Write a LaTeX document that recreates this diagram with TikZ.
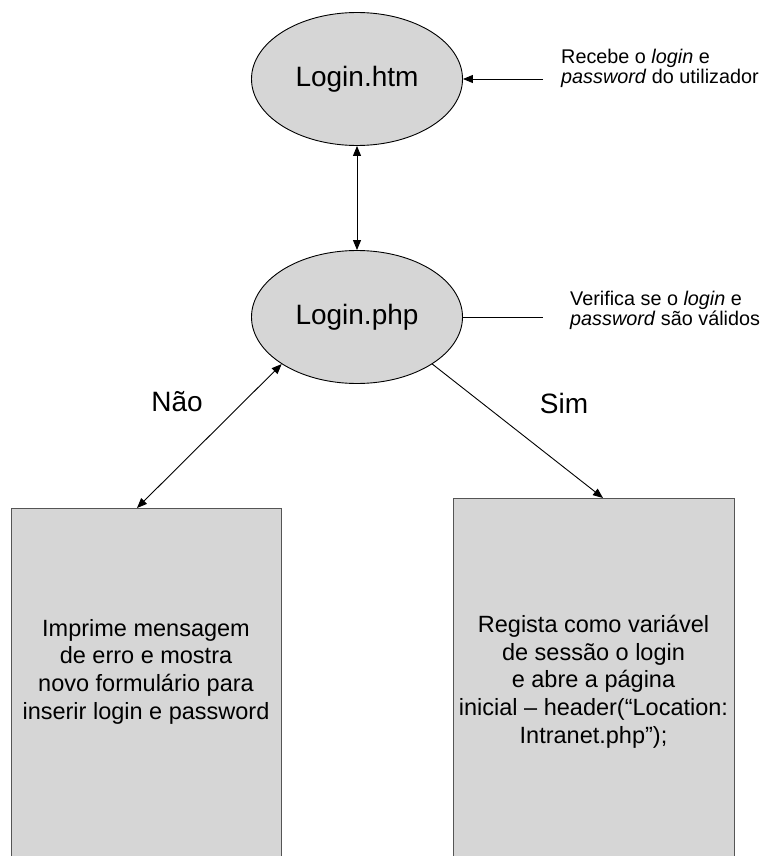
\documentclass[tikz,border=0pt]{standalone}
\usepackage{fontspec}
\setmainfont{Liberation Sans}
\usetikzlibrary{arrows.meta,shapes.geometric}
\definecolor{fillgray}{HTML}{D6D6D6}
\definecolor{edgegray}{HTML}{555555}
\begin{document}
\begin{tikzpicture}[x=1pt,y=-1pt,
  ell/.style={ellipse, draw=black, line width=0.9pt, fill=fillgray, minimum width=211pt, minimum height=133pt, inner sep=0pt, font=\fontsize{28}{32}\selectfont},
  boxst/.style={rectangle, draw=edgegray, line width=1.2pt, fill=fillgray, minimum width=270pt, minimum height=380pt, inner sep=0pt, anchor=north west},
  boxtext/.style={align=center, inner sep=0pt, font=\fontsize{23.5}{27.7}\selectfont},
  sidetext/.style={align=left, inner sep=0pt, anchor=north west, font=\fontsize{19.8}{20.5}\selectfont},
  lbl/.style={inner sep=0pt, font=\fontsize{28}{32}\selectfont},
  conn/.style={line width=0.9pt, black},
  tip/.style={-{Triangle[length=10pt,width=8pt]}},
  tips/.style={{Triangle[length=10pt,width=8pt]}-{Triangle[length=10pt,width=8pt]}}
]
\useasboundingbox (0,0) rectangle (764,856);
\clip (0,0) rectangle (764,856);
\fill[white] (0,0) rectangle (764,856);

\node[ell] (lh) at (357,79) {Login.htm};
\node[ell] (lp) at (357,317) {Login.php};

\node[boxst, minimum width=270pt] (bl) at (11,508) {};
\node[boxst, minimum width=281pt] (br) at (453,498) {};

\node[boxtext] (tl) at (146,671.5) {Imprime mensagem\\de erro e mostra\\novo formulário para\\inserir login e password};
\node[boxtext] (tr) at (593.5,681.5) {Regista como variável\\de sessão o login\\e abre a página\\inicial – header(“Location:\\Intranet.php”);};

\node[sidetext] (s1) at (561,48.5) {Recebe o \textit{login} e\\\textit{password} do utilizador};
\node[sidetext] (s2) at (570,290.5) {Verifica se o \textit{login} e\\\textit{password} são válidos};

\node[lbl] (nao) at (177,402) {Não};
\node[lbl] (sim) at (564,403) {Sim};

\coordinate (c1) at (543,79);
\coordinate (c2) at (543,317);
\coordinate (bltop) at ([xshift=126pt]bl.north west);
\coordinate (brtop) at ([xshift=150pt]br.north west);

\draw[conn,tips] (lh.south) -- (lp.north);
\draw[conn,tip] (c1) -- (lh.east);
\draw[conn] (lp.east) -- (c2);
\draw[conn,tips] (lp.212) -- (bltop);
\draw[conn,tip] (lp.-32) -- (brtop);
\end{tikzpicture}
\end{document}
